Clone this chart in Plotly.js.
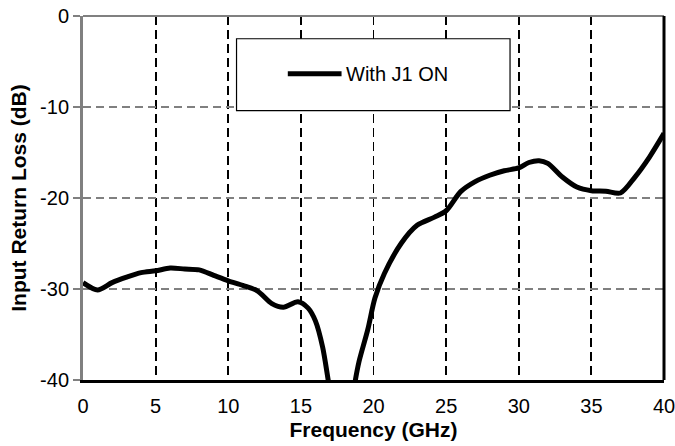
<!DOCTYPE html>
<html>
<head>
<meta charset="utf-8">
<script src="https://cdn.plot.ly/plotly-3.0.1.min.js"></script>
<style>
html,body{margin:0;padding:0;background:#fff;}
#chart{width:675px;height:446px;}
</style>
</head>
<body>
<div id="chart"></div>
<script>
const seriesName = "With J1 ON";
const freqGHz = [0, 1, 2, 3, 4, 5, 6, 7, 8, 9, 10, 11, 12, 13, 13.8, 14.8, 15.5, 16.0, 16.5, 16.9, 17.5, 18.2, 18.7, 19.0, 19.6, 20.1, 20.75, 21.9, 23.0, 24.2, 25, 26, 27, 28, 29, 30, 30.7, 31.4, 32, 33, 34, 35, 36, 37, 38, 39, 40];
const inputReturnLossDB = [-29.3, -30.1, -29.3, -28.7, -28.2, -28.0, -27.7, -27.8, -27.9, -28.5, -29.1, -29.6, -30.2, -31.6, -32.0, -31.4, -32.1, -33.5, -36.4, -40.2, -46, -46, -40.5, -38.0, -34.5, -31.0, -28.3, -25.0, -23.0, -22.1, -21.4, -19.3, -18.2, -17.5, -17.0, -16.7, -16.1, -15.9, -16.2, -17.7, -18.8, -19.2, -19.25, -19.45, -17.7, -15.5, -12.9];
const xTicks = [0, 5, 10, 15, 20, 25, 30, 35, 40];
const yTicks = [0, -10, -20, -30, -40];

const trace = {
  x: freqGHz,
  y: inputReturnLossDB,
  type: 'scatter',
  mode: 'lines',
  name: seriesName,
  line: {color: '#000', width: 5, shape: 'spline', smoothing: 0.8},
  showlegend: false
};

const font = {family: 'Liberation Sans, Arial, sans-serif', color: '#000'};

const layout = {
  width: 675, height: 446,
  margin: {l: 83, r: 11, t: 16, b: 66},
  paper_bgcolor: '#fff', plot_bgcolor: '#fff',
  font: font,
  xaxis: {
    range: [0, 40],
    tickvals: xTicks,
    ticktext: xTicks.map(String),
    tickfont: {size: 20, family: font.family, color: '#000'},
    ticklabelstandoff: 6,
    ticklabeloverflow: 'allow',
    showgrid: true, gridcolor: '#000', gridwidth: 1.8, griddash: '9px,5px',
    showline: true, linecolor: '#000', linewidth: 3,
    zeroline: false, ticks: '',
    title: {text: '<b>Frequency (GHz)</b>', font: {size: 21, family: font.family, color: '#000'}, standoff: 7}
  },
  yaxis: {
    range: [-40, 0],
    tickvals: yTicks,
    ticktext: yTicks.map(String),
    tickfont: {size: 20, family: font.family, color: '#000'},
    showgrid: true, gridcolor: '#808080', gridwidth: 1.5, griddash: '8px,5px',
    showline: true, linecolor: '#808080', linewidth: 3,
    zeroline: false, ticks: 'outside', ticklen: 7, tickwidth: 2, tickcolor: '#808080',
    title: {text: '<b>Input Return Loss (dB)</b>', font: {size: 21, family: font.family, color: '#000'}, standoff: 8}
  },
  shapes: [
    {type: 'line', xref: 'paper', yref: 'paper', x0: 0, x1: 1, y0: 1, y1: 1, line: {color: '#808080', width: 2}},
    {type: 'line', xref: 'paper', yref: 'paper', x0: 1, x1: 1, y0: 0, y1: 1, line: {color: '#000', width: 3}},
    {type: 'rect', xref: 'x', yref: 'y', x0: 10.57, x1: 29.4, y0: -2.5, y1: -10.4, line: {color: '#000', width: 1.2}, fillcolor: '#fff', layer: 'above'},
    {type: 'line', xref: 'x', yref: 'y', x0: 14.1, x1: 17.8, y0: -6.35, y1: -6.35, line: {color: '#000', width: 5}, layer: 'above'}
  ],
  annotations: [
    {xref: 'x', yref: 'y', x: 18.0, y: -6.35, xanchor: 'left', yanchor: 'middle', text: seriesName, showarrow: false, font: {size: 20, family: font.family, color: '#000'}}
  ]
};

Plotly.newPlot('chart', [trace], layout, {displayModeBar: false, staticPlot: true});
</script>
</body>
</html>
